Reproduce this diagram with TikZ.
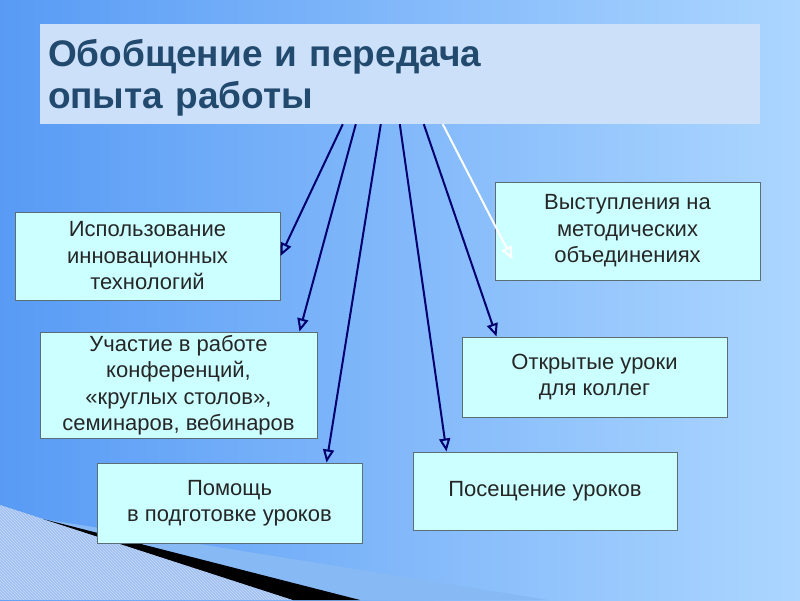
\documentclass[tikz,border=0pt]{standalone}
\usepackage{fontspec}
\setmainfont{Liberation Sans}
\usepackage{tikz}
\usetikzlibrary{arrows.meta, patterns}
\definecolor{bgleft}{RGB}{88, 155, 245}
\definecolor{bgright}{RGB}{172, 214, 255}
\definecolor{titlefill}{RGB}{205, 224, 250}
\definecolor{titletext}{RGB}{34, 74, 110}
\definecolor{itemfill}{RGB}{204, 255, 255}
\definecolor{itemdraw}{RGB}{90, 110, 115}
\definecolor{linkblue}{RGB}{0, 0, 110}
\definecolor{stripefill}{RGB}{160, 192, 240}
\definecolor{stripeline}{RGB}{200, 218, 250}
\definecolor{bandblue}{RGB}{135, 185, 245}

\tikzset{
	itembox/.style={draw=itemdraw, line width=1pt, fill=itemfill, text=black!85, align=center,
		inner sep=0pt, font=\fontsize{22}{26.5}\selectfont},
	link/.style={draw=linkblue, line width=2pt, -{Triangle[open, length=13pt, width=11pt]}},
}

\begin{document}
\begin{tikzpicture}[x=1pt, y=-1pt]
		\useasboundingbox (0,0) rectangle (800,600);
		\shade[left color=bgleft, right color=bgright] (0,0) rectangle (800,600);

		\fill[bandblue] (43,519) -- (548,600) -- (360,600) -- cycle;
		\fill[stripefill] (0,505) -- (293,600) -- (0,600) -- cycle;
		\fill[pattern=north west lines, pattern color=stripeline] (0,505) -- (293,600) -- (0,600) -- cycle;
		\fill[black] (43,519) -- (360,600) -- (293,600) -- cycle;

		\node[fill=titlefill, text=titletext, minimum width=720pt, minimum height=100pt, text width=704pt,
			text depth=42pt, inner xsep=8pt, inner ysep=0pt, align=left, font=\fontsize{37}{42}\selectfont\bfseries]
			(title) at (400,74) {Обобщение и передача\\опыта работы};

		\node[itembox, minimum width=265pt, minimum height=88pt] (inno) at (147.5,256)
			{Использование\\инновационных\\технологий};
		\node[itembox, minimum width=277pt, minimum height=106pt] (konf) at (178.5,385)
			{Участие в работе\\конференций,\\«круглых столов»,\\семинаров, вебинаров};
		\node[itembox, minimum width=265pt, minimum height=80pt] (pomosh) at (229.5,503)
			{Помощь\\в подготовке уроков};
		\node[itembox, minimum width=265pt, minimum height=98pt] (vyst) at (627.5,231)
			{Выступления на\\методических\\объединениях};
		\node[itembox, minimum width=265pt, minimum height=80pt] (otkr) at (594.5,377)
			{Открытые уроки\\для коллег};
		\node[itembox, minimum width=264pt, minimum height=78pt] (poseshch) at (545,491)
			{Посещение уроков};

		\draw[link] ([xshift=303pt]title.south west) -- (inno.east);
		\draw[link] ([xshift=316pt]title.south west) -- ([xshift=260pt]konf.north west);
		\draw[link] ([xshift=341pt]title.south west) -- ([xshift=230pt]pomosh.north west);
		\draw[link] ([xshift=360pt]title.south west) -- ([xshift=34pt]poseshch.north west);
		\draw[link] ([xshift=384pt]title.south west) -- ([xshift=35pt]otkr.north west);
		\draw[link, draw=white] ([xshift=403pt]title.south west) -- ([xshift=18pt, yshift=-78pt]vyst.north west);
	\end{tikzpicture}
\end{document}
